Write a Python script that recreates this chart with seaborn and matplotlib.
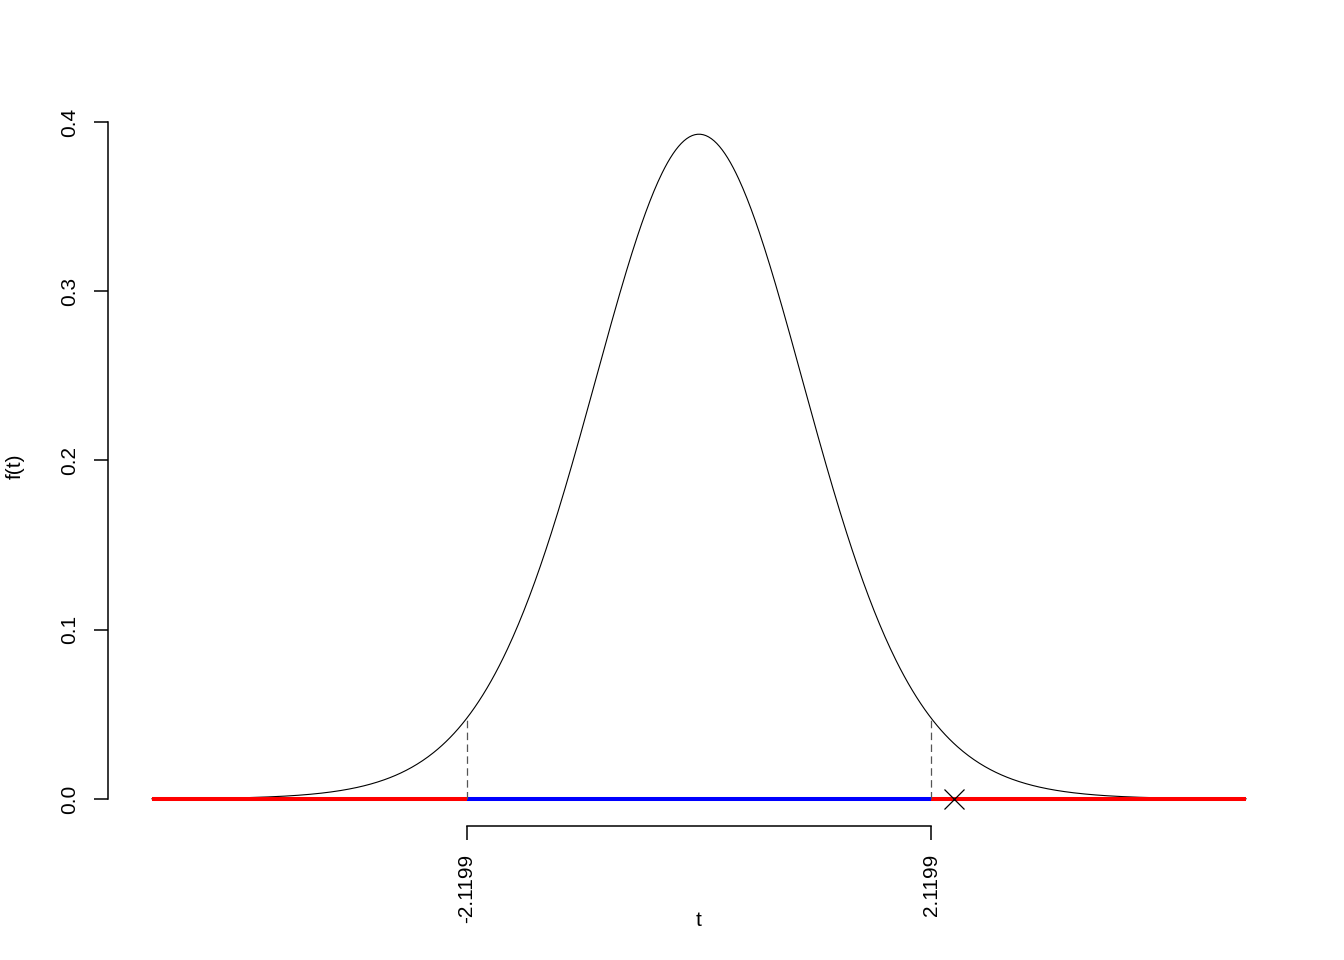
import math
import numpy as np
import pandas as pd
import seaborn as sns
import matplotlib.pyplot as plt

# t distribution
df_t = 16
t_crit = 2.1199
t_obs = 2.33
x_range = [-5, 5]
y_ticks = [0.0, 0.1, 0.2, 0.3, 0.4]
y_tick_labels = ["0.0", "0.1", "0.2", "0.3", "0.4"]
x_ticks = [-t_crit, t_crit]
x_tick_labels = ["-2.1199", "2.1199"]


def t_pdf(x, nu):
    c = math.exp(math.lgamma((nu + 1) / 2) - math.lgamma(nu / 2)) / math.sqrt(nu * math.pi)
    return c * (1 + x ** 2 / nu) ** (-(nu + 1) / 2)


xs = np.linspace(x_range[0], x_range[1], 801)
curve = pd.DataFrame({"t": xs, "f": t_pdf(xs, df_t)})

sns.set_style("white")
plt.rcParams["font.family"] = ["Liberation Sans", "DejaVu Sans"]
plt.rcParams["text.color"] = "black"

fig = plt.figure(figsize=(13.44, 9.6), dpi=100)
ax = fig.add_axes([108 / 1344, 1 - 825.6 / 960, (1290 - 108) / 1344, (825.6 - 108.4) / 960])

sns.lineplot(data=curve, x="t", y="f", color="black", linewidth=0.8, ax=ax)

# rejection / acceptance regions along the axis
ax.plot([x_range[0], -t_crit], [0, 0], color="red", linewidth=2.9, solid_capstyle="butt")
ax.plot([t_crit, x_range[1]], [0, 0], color="red", linewidth=2.9, solid_capstyle="butt")
ax.plot([-t_crit, t_crit], [0, 0], color="blue", linewidth=2.9, solid_capstyle="butt")

# dashed lines at the critical values
for xc in x_ticks:
    ax.plot([xc, xc], [0, t_pdf(xc, df_t)], color="#555555", linewidth=0.9,
            linestyle=(0, (6, 3.5)))

# observed statistic
ax.plot([t_obs], [0], marker="x", markersize=15, color="black", markeredgewidth=0.9)

ax.set_xlim(-5.4, 5.4)
ax.set_ylim(-0.0157, 0.408)

for side in ["top", "right"]:
    ax.spines[side].set_visible(False)
ax.spines["left"].set_bounds(0, 0.4)
ax.spines["bottom"].set_bounds(-t_crit, t_crit)
for side in ["left", "bottom"]:
    ax.spines[side].set_linewidth(1.1)
    ax.spines[side].set_color("black")

ax.set_yticks(y_ticks)
ax.set_yticklabels(y_tick_labels, rotation=90, va="center", fontsize=15)
ax.set_xticks(x_ticks)
ax.set_xticklabels(x_tick_labels, rotation=90, fontsize=15)
ax.tick_params(axis="both", direction="out", length=10, width=1.1, color="black",
               labelcolor="black", left=True, bottom=True)
ax.tick_params(axis="y", pad=11)
ax.tick_params(axis="x", pad=10)

ax.set_xlabel("")
ax.set_ylabel("")
fig.text(15 / 1344, 1 - 466 / 960, "f(t)", rotation=90, ha="center", va="center",
         fontsize=15, color="black")
fig.text(699 / 1344, 1 - 920 / 960, "t", ha="center", va="center", fontsize=15, color="black")

fig.savefig("out.png", dpi=100)
